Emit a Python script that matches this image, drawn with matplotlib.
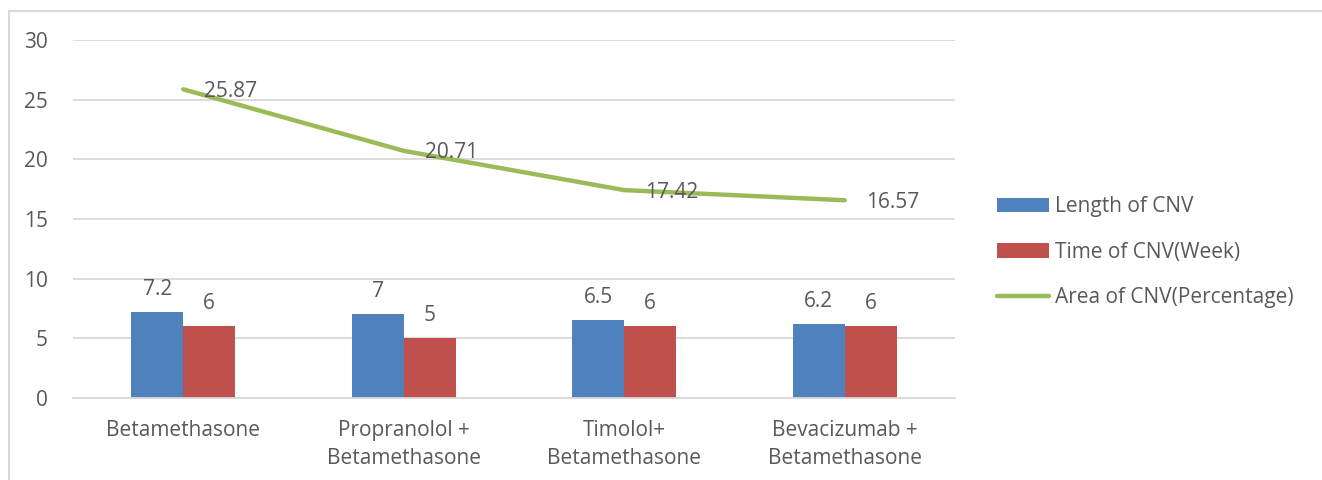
import matplotlib.pyplot as plt
import numpy as np

plt.rcParams['font.family'] = ['Open Sans', 'DejaVu Sans']

# data
groups = ['Betamethasone', 'Propranolol +\nBetamethasone',
          'Timolol+\nBetamethasone', 'Bevacizumab +\nBetamethasone']
length_cnv = [7.2, 7, 6.5, 6.2]
time_cnv = [6, 5, 6, 6]
area_cnv = [25.87, 20.71, 17.42, 16.57]

blue = '#4F81BD'
red = '#C0504D'
green = '#9BBB59'
txt = '#595959'
grid = '#D9D9D9'
fs = 15

fig = plt.figure(figsize=(13.22, 4.8), dpi=100)
ax = fig.add_axes([73 / 1322, 82 / 480, 882 / 1322, 358 / 480])

x = np.arange(len(groups))
w = 0.236
b1 = ax.bar(x - w / 2, length_cnv, w, color=blue, label='Length of CNV', zorder=2)
b2 = ax.bar(x + w / 2, time_cnv, w, color=red, label='Time of CNV(Week)', zorder=2)
ln, = ax.plot(x, area_cnv, color=green, lw=3.2, solid_capstyle='round',
              label='Area of CNV(Percentage)', zorder=3)

for xi, v in zip(x, length_cnv):
    ax.annotate('%g' % v, (xi - w / 2, v), xytext=(0, 9), textcoords='offset points',
                ha='center', va='bottom', fontsize=fs, color=txt)
for xi, v in zip(x, time_cnv):
    ax.annotate('%g' % v, (xi + w / 2, v), xytext=(0, 9), textcoords='offset points',
                ha='center', va='bottom', fontsize=fs, color=txt)
for xi, v in zip(x, area_cnv):
    ax.annotate('%.2f' % v, (xi, v), xytext=(15, -1.5), textcoords='offset points',
                ha='left', va='center', fontsize=fs, color=txt, zorder=4)

ax.set_xlim(-0.5, len(groups) - 0.5)
ax.set_ylim(0, 30)
ax.set_yticks(range(0, 31, 5))
ax.set_xticks(x)
ax.set_xticklabels(groups, fontsize=fs, color=txt, linespacing=1.45)
ax.tick_params(axis='y', length=0, pad=18, labelsize=fs, labelcolor=txt)
ax.tick_params(axis='x', length=0, pad=16)
for lbl in ax.get_yticklabels():
    lbl.set_horizontalalignment('right')
ax.grid(axis='y', color=grid, lw=1.3, zorder=0)
ax.set_axisbelow(True)
for s in ['top', 'right', 'left']:
    ax.spines[s].set_visible(False)
ax.spines['bottom'].set_color(grid)
ax.spines['bottom'].set_linewidth(1.3)

fig.legend(handles=[b1, b2, ln], loc='upper left', bbox_to_anchor=(989 / 1322, 1 - 188 / 480),
           frameon=False, fontsize=fs, labelcolor=txt, handlelength=2.5,
           handleheight=0.7, handletextpad=0.25, labelspacing=1.18, borderaxespad=0)

# outer chart border (left and top edges visible)
fig.add_artist(plt.Line2D([8.5 / 1322, 8.5 / 1322], [0, 1 - 11 / 480], color=grid, lw=1.5))
fig.add_artist(plt.Line2D([8.5 / 1322, 1], [1 - 11 / 480, 1 - 11 / 480], color=grid, lw=1.5))

fig.savefig('out.png', dpi=100)
